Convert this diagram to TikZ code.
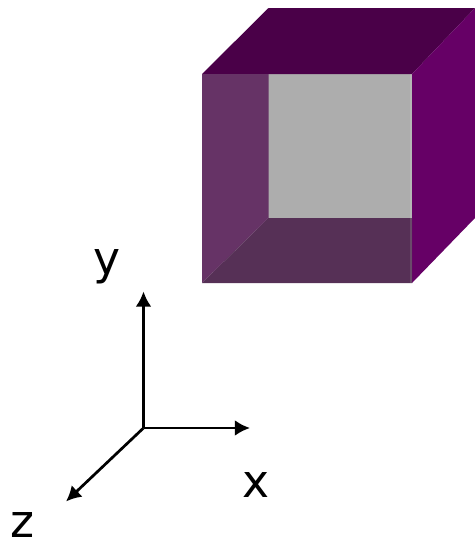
\documentclass[tikz,border=0pt]{standalone}
\usepackage{fontspec}
\usepackage{xcolor}
\usetikzlibrary{arrows.meta}
\setsansfont{DejaVu Sans}
\definecolor{facetop}{HTML}{4A0048}
\definecolor{faceright}{HTML}{660066}
\definecolor{faceleft}{HTML}{663366}
\definecolor{facebottom}{HTML}{563056}
\definecolor{faceback}{HTML}{ADADAD}
\tikzset{
    axislabel/.style={font=\sffamily\fontsize{26}{26}\selectfont, black, inner sep=0pt, anchor=base},
    axisline/.style={-{Latex[length=8.6pt, width=9pt]}, black, line width=1.55pt},
}

\begin{document}
\begin{tikzpicture}[x=0.02cm, y=-0.02cm]
    \useasboundingbox (0,0) rectangle (475,541);
    
    \fill[faceback]   (268,74) rectangle (412,218);
    \fill[facetop]    (202,74) -- (268.5,8) -- (475,8) -- (412,74) -- cycle;
    \fill[faceright]  (412,74) -- (475,8) -- (475,218) -- (412,283) -- cycle;
    \fill[faceleft]   (202,74) -- (268.5,74) -- (268.5,218) -- (202,283) -- cycle;
    \fill[facebottom] (202,283) -- (268.5,218) -- (412,218) -- (412,283) -- cycle;
    \fill[white, fill opacity=0.12] (409.5,74) rectangle (412,283);
    
    \coordinate (origin) at (143.5,428);
    \coordinate (yend) at (143.5,291.5);
    \coordinate (xend) at (250,428);
    \coordinate (zend) at (66,501.5);
    \draw[axisline] (origin) -- (yend);
    \draw[axisline] (origin) -- (xend);
    \draw[axisline] (origin) -- (zend);
    
    \node[axislabel] (ylabel) at (107.5,274) {y};
    \node[axislabel] (xlabel) at (256,497) {x};
    \node[axislabel] (zlabel) at (22,537) {z};
\end{tikzpicture}
\end{document}
